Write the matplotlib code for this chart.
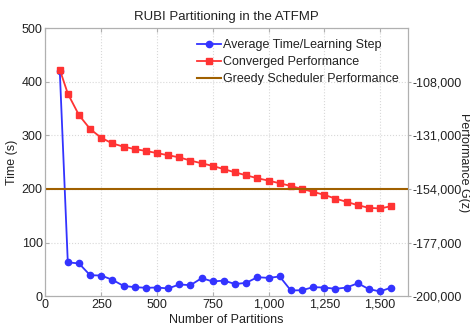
import matplotlib
matplotlib.use("Agg")
import matplotlib.pyplot as plt
from matplotlib.ticker import FuncFormatter

plt.rcParams['font.family'] = ['Liberation Sans', 'DejaVu Sans']

partitions = [64, 100, 150, 200, 250, 300, 350, 400, 450, 500, 550, 600, 650, 700, 750, 800,
              850, 900, 950, 1000, 1050, 1100, 1150, 1200, 1250, 1300, 1350, 1400, 1450, 1500, 1550]
avg_time = [421, 63, 61, 39, 38.4, 30.4, 19, 16.7, 15.5, 16, 14.3, 21.7, 20.4, 33.5, 27.3, 29,
            22.5, 24.8, 35.3, 34, 36.6, 10.5, 11, 16.7, 16, 13.6, 16, 24, 13, 8.7, 16]
converged = [-102700, -113060, -122260, -128240, -132035, -134450, -135830, -136865, -137670,
             -138590, -139510, -140430, -141810, -142960, -144110, -145490, -146870, -148135,
             -149400, -150410, -151560, -152690, -154000, -155240, -156530, -158140, -159520,
             -160970, -162100, -162370, -161380]
greedy = -154000
x_ticks = [0, 250, 500, 750, 1000, 1250, 1500]
left_ticks = [0, 100, 200, 300, 400, 500]
right_ticks = [-200000, -177000, -154000, -131000, -108000]

fig = plt.figure(figsize=(4.7, 3.29), dpi=100)
ax = fig.add_axes([0.0968, 0.100, 0.7712, 0.814])
ax2 = ax.twinx()

spine_c = '#b0b0b0'
text_c = '#222222'
fs = 9

l1, = ax.plot(partitions, avg_time, color='#3333ff', marker='o', markersize=4.5, lw=1.3,
              label='Average Time/Learning Step')
l2, = ax2.plot(partitions, converged, color='#ff3333', marker='s', markersize=4, lw=1.3,
               label='Converged Performance')
l3 = ax2.axhline(greedy, color='#a06000', lw=1.5, label='Greedy Scheduler Performance')

ax.set_xlim(0, 1625)
ax.set_ylim(0, 500)
ax2.set_ylim(-200000, -85000)
ax.set_xticks(x_ticks)
ax.set_yticks(left_ticks)
ax2.set_yticks(right_ticks)
ax.xaxis.set_major_formatter(FuncFormatter(lambda v, p: f'{int(v):,}'))
ax2.yaxis.set_major_formatter(FuncFormatter(lambda v, p: f'{int(v):,}'))

ax.grid(True, color='#d8d8d8', linestyle=':', linewidth=0.8)
ax.set_axisbelow(True)

for a in (ax, ax2):
    for s in a.spines.values():
        s.set_color(spine_c)
ax.tick_params(axis='both', direction='in', length=3, color=spine_c, labelsize=fs,
               labelcolor=text_c, top=True, pad=2)
ax2.tick_params(axis='y', direction='out', length=2, color=spine_c, labelsize=fs,
                labelcolor=text_c, pad=1)

ax.set_xlabel('Number of Partitions', fontsize=fs, color=text_c, labelpad=2)
ax.set_ylabel('Time (s)', fontsize=fs, color=text_c)
ax.yaxis.set_label_coords(-0.076, 0.5)
ax2.set_ylabel('Performance G(z)', fontsize=fs, color=text_c, rotation=270)
ax2.yaxis.set_label_coords(1.17, 0.5)
ax.set_title('RUBI Partitioning in the ATFMP', fontsize=9.5, color=text_c, pad=6)

leg = ax2.legend(handles=[l1, l2, l3], loc='upper right', frameon=False, fontsize=fs,
                 handlelength=1.9, handletextpad=0.2, labelspacing=0.4,
                 borderaxespad=0.3, bbox_to_anchor=(1.0, 0.993))
for t in leg.get_texts():
    t.set_color(text_c)

fig.savefig('out.png', dpi=100)
